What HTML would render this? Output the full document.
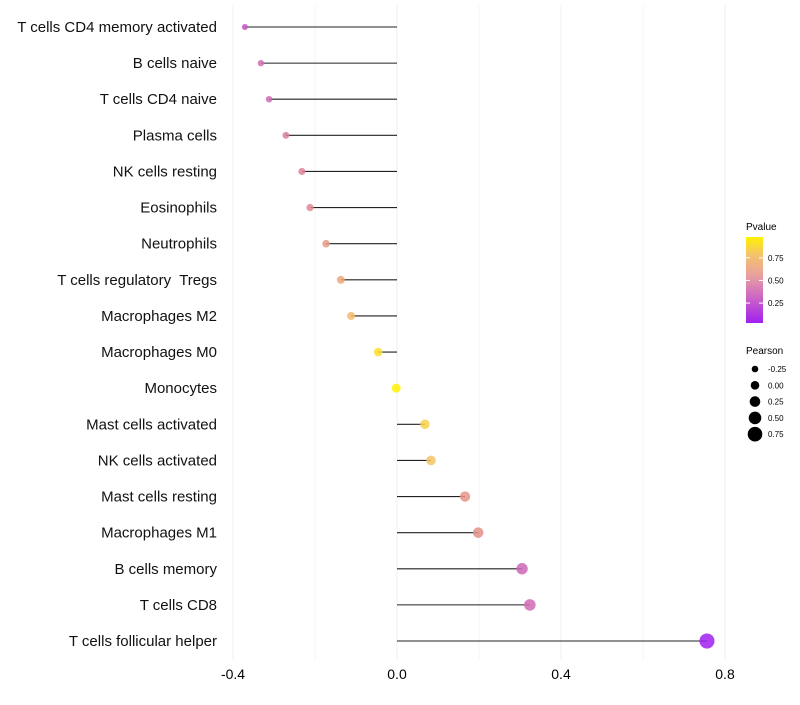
<!DOCTYPE html>
<html><head><meta charset="utf-8"><style>
body{margin:0;background:#fff;font-family:"Liberation Sans",sans-serif}
</style></head><body>
<svg id="chart" width="800" height="700" xmlns="http://www.w3.org/2000/svg" font-family="Liberation Sans, sans-serif">
<defs><linearGradient id="pg" x1="0" y1="1" x2="0" y2="0">
<stop offset="0" stop-color="#A020F0"/><stop offset="0.3" stop-color="#CC66C4"/><stop offset="0.55" stop-color="#E8A0A0"/><stop offset="0.8" stop-color="#F5C468"/><stop offset="1" stop-color="#FFF200"/></linearGradient></defs>
<g id="grid"></g><g id="marks"></g><g id="labels"></g>
<g>
<text x="746" y="230" font-size="10">Pvalue</text>
<rect x="746" y="237" width="17" height="86" fill="url(#pg)"/>
<g id="cbticks"></g>
<text x="746" y="354" font-size="10">Pearson</text>
<g id="sizeleg"></g>
</g>
</svg>
<script>
const categories=["T cells CD4 memory activated","B cells naive","T cells CD4 naive","Plasma cells","NK cells resting","Eosinophils","Neutrophils","T cells regulatory  Tregs","Macrophages M2","Macrophages M0","Monocytes","Mast cells activated","NK cells activated","Mast cells resting","Macrophages M1","B cells memory","T cells CD8","T cells follicular helper"];
const pearson=[-0.371,-0.332,-0.312,-0.271,-0.232,-0.212,-0.173,-0.137,-0.112,-0.046,-0.002,0.068,0.083,0.166,0.198,0.305,0.324,0.756];
const pvalue=[0.22,0.3,0.3,0.42,0.45,0.48,0.58,0.65,0.75,0.9,0.99,0.85,0.8,0.55,0.52,0.28,0.3,0.02];
const xTicks=[-0.4,0.0,0.4,0.8];
const cbTicks=[0.25,0.5,0.75];
const sizeTicks=[-0.25,0.0,0.25,0.5,0.75];
const NS="http://www.w3.org/2000/svg";
const xs=v=>397+v*410;
const ys=i=>27+i*(641-27)/17;
const rs=v=>Math.max(1.8,4.5+4*v);
const cbY=p=>323-(p-0.03)/(0.98-0.03)*86;
const stops=[[0.03,[160,32,240]],[0.3,[208,108,180]],[0.5,[226,140,140]],[0.8,[245,196,104]],[0.98,[255,242,0]]];
function col(p){p=Math.max(0.03,Math.min(0.98,p));for(let k=1;k<stops.length;k++){if(p<=stops[k][0]){const a=stops[k-1],b=stops[k],t=(p-a[0])/(b[0]-a[0]);return "rgb("+a[1].map((c,j)=>Math.round(c+(b[1][j]-c)*t)).join(",")+")";}}return "rgb(255,242,0)";}
function el(tag,attrs,parent){const e=document.createElementNS(NS,tag);for(const k in attrs)e.setAttribute(k,attrs[k]);parent.appendChild(e);return e;}
const grid=document.getElementById("grid"),marks=document.getElementById("marks"),labels=document.getElementById("labels");
for(let v=-0.4;v<=0.801;v+=0.2){const l=el("line",{x1:xs(v),x2:xs(v),y1:5,y2:660,stroke:"#efefef","stroke-width":Math.abs(Math.round(v*10))%4===0?1:0.6},grid);

}
xTicks.forEach(v=>{const t=el("text",{x:xs(v),y:679,"font-size":14,"text-anchor":"middle",fill:"#000"},labels);t.textContent=v.toFixed(1);

});
categories.forEach((c,i)=>{const y=ys(i);
const t=el("text",{x:217,y:y+5,"font-size":15,"text-anchor":"end",fill:"#111","xml:space":"preserve"},labels);t.style.whiteSpace="pre";t.textContent=c;


const ln=el("line",{x1:xs(0),x2:xs(pearson[i]),y1:y,y2:y,stroke:"#222","stroke-width":1.1},marks);


const d=el("circle",{cx:xs(pearson[i]),cy:y,r:rs(pearson[i]),fill:col(pvalue[i]),"fill-opacity":0.85},marks);

});
const cb=document.getElementById("cbticks");
cbTicks.forEach(p=>{const y=cbY(p);el("line",{x1:746,x2:750,y1:y,y2:y,stroke:"#fff"},cb);el("line",{x1:759,x2:763,y1:y,y2:y,stroke:"#fff"},cb);
const t=el("text",{x:768,y:y+3,"font-size":8},cb);t.textContent=p.toFixed(2);

});
const sl=document.getElementById("sizeleg");
sizeTicks.forEach((v,i)=>{const y=369+i*16.3;const c=el("circle",{cx:755,cy:y,r:rs(v)-0.2,fill:"#000"},sl);


const t=el("text",{x:768,y:y+3,"font-size":8},sl);t.textContent=v.toFixed(2);

});
</script>
</body></html>
